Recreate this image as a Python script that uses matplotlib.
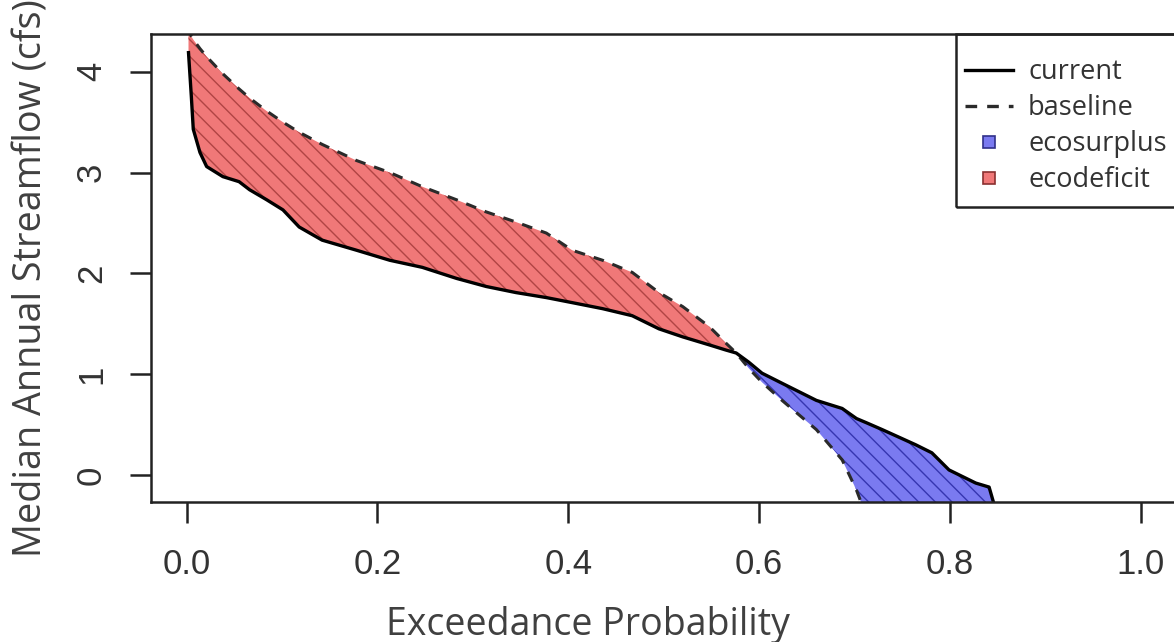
import matplotlib
matplotlib.use("Agg")
import matplotlib.pyplot as plt
import numpy as np
from matplotlib.lines import Line2D
from matplotlib.patches import Rectangle

# flow duration curves (shared exceedance grid)
exceedance = [0.002, 0.005, 0.007, 0.014, 0.021, 0.038, 0.055, 0.066, 0.084, 0.101,
              0.118, 0.142, 0.178, 0.213, 0.247, 0.283, 0.314, 0.345, 0.377, 0.404,
              0.436, 0.467, 0.495, 0.520, 0.548, 0.565, 0.576, 0.589, 0.603, 0.624,
              0.660, 0.687, 0.702, 0.712, 0.729, 0.764, 0.781, 0.799, 0.827, 0.841, 0.848]
current = [4.19, 3.75, 3.43, 3.20, 3.06, 2.96, 2.91, 2.83, 2.73, 2.63,
           2.46, 2.33, 2.23, 2.13, 2.06, 1.95, 1.87, 1.81, 1.76, 1.71,
           1.65, 1.58, 1.45, 1.37, 1.29, 1.24, 1.21, 1.12, 1.01, 0.91,
           0.74, 0.66, 0.56, 0.52, 0.45, 0.30, 0.22, 0.05, -0.08, -0.12, -0.35]
baseline = [4.45, 4.35, 4.32, 4.23, 4.15, 3.98, 3.83, 3.74, 3.61, 3.50,
            3.40, 3.28, 3.12, 3.00, 2.86, 2.73, 2.61, 2.51, 2.40, 2.23,
            2.13, 2.01, 1.81, 1.67, 1.47, 1.31, 1.21, 1.06, 0.92, 0.74,
            0.45, 0.15, -0.15, -0.40, -0.50, -0.60, -0.70, -0.80, -0.90, -1.00, -1.00]

xticks = [0.0, 0.2, 0.4, 0.6, 0.8, 1.0]
yticks = [0, 1, 2, 3, 4]
legend_labels = ["current", "baseline", "ecosurplus", "ecodeficit"]

red_face, red_hatch = "#f07878", "#b04444"
blue_face, blue_hatch = "#7a7af0", "#3636b0"
ink = "#222222"

plt.rcParams["hatch.linewidth"] = 1.0

x = np.array(exceedance)
cur = np.array(current)
base = np.array(baseline)

fig = plt.figure(figsize=(11.74, 6.42), dpi=100)
ax = fig.add_axes([151 / 1174, 1 - 502 / 642, 1028 / 1174, 468 / 642])

ax.fill_between(x, cur, base, where=base >= cur, interpolate=True,
                facecolor=red_face, edgecolor=red_hatch, hatch="\\\\", linewidth=0)
ax.fill_between(x, cur, base, where=cur >= base, interpolate=True,
                facecolor=blue_face, edgecolor=blue_hatch, hatch="\\\\", linewidth=0)
ax.plot(x, base, color="#2a2a2a", lw=2.2, linestyle=(0, (3.5, 3)))
ax.plot(x, cur, color="black", lw=2.4)

ax.set_xlim(-0.0373, 1.04)
ax.set_ylim(-0.268, 4.375)

ax.set_xticks(xticks)
ax.set_xticklabels([f"{t:.1f}" for t in xticks])
ax.set_yticks(yticks)
ax.set_yticklabels([str(t) for t in yticks])
ax.tick_params(direction="out", width=1.8, color=ink, labelcolor="#333333")
ax.tick_params(axis="x", length=15, pad=18, labelsize=25)
ax.tick_params(axis="y", length=15, pad=16, labelsize=25, labelrotation=90)
for lbl in ax.get_xticklabels() + ax.get_yticklabels():
    lbl.set_fontfamily("Liberation Sans")
for lbl in ax.get_yticklabels():
    lbl.set_va("center")
for s in ax.spines.values():
    s.set_linewidth(1.8)
    s.set_color(ink)

fig.text(587.5 / 1174, 1 - 635 / 642, "Exceedance Probability", ha="center",
         va="baseline", fontsize=27, family="Open Sans", color="#404040")
fig.text(32 / 1174, 1 - 278 / 642, "Median Annual Streamflow (cfs)", ha="center",
         va="center", rotation=90, fontsize=27.2, family="Open Sans", color="#404040")

handles = [
    Line2D([], [], color="black", lw=2.4),
    Line2D([], [], color="#2a2a2a", lw=2.4, linestyle=(0, (3.5, 3))),
    Line2D([], [], ls="none", marker="s", ms=8, mfc=blue_face, mec="#30308a", mew=1.2),
    Line2D([], [], ls="none", marker="s", ms=8, mfc=red_face, mec="#8a3030", mew=1.2),
]
ax.legend(handles, legend_labels, loc="upper left",
          bbox_to_anchor=(965 / 1174, 1 - 58 / 642), bbox_transform=fig.transFigure,
          frameon=False, borderpad=0, borderaxespad=0, handlelength=1.77,
          handletextpad=0.56, labelspacing=0.3, labelcolor="#333333",
          prop={"family": "Open Sans", "size": 19.5})
fig.patches.append(Rectangle((956 / 1174, 1 - 207 / 642), 300 / 1174, 173 / 642,
                             transform=fig.transFigure, fill=False, lw=1.8, ec=ink))

fig.savefig("out.png", dpi=100)
